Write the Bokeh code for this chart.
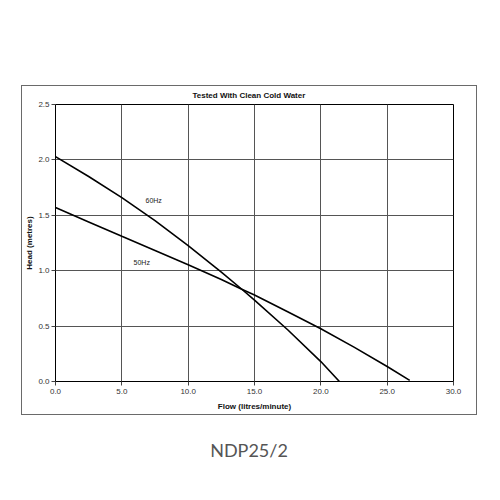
from bokeh.plotting import figure
from bokeh.models import FixedTicker, PrintfTickFormatter, Label, Range1d, Div, Spacer
from bokeh.layouts import column, row
from bokeh.embed import file_html
from bokeh.resources import INLINE

# data
flow_60 = [0, 2.5, 5, 7.5, 10, 12.5, 14, 15, 17.5, 20, 21.4]
head_60 = [2.03, 1.85, 1.66, 1.452, 1.227, 0.987, 0.837, 0.735, 0.467, 0.18, 0.0]
flow_50 = [0, 2.5, 5, 7.5, 10, 12.5, 14, 15, 17.5, 20, 22.5, 25, 26.7]
head_50 = [1.57, 1.44, 1.31, 1.182, 1.054, 0.92, 0.835, 0.78, 0.63, 0.476, 0.31, 0.135, 0.01]
x_ticks = [0, 5, 10, 15, 20, 25, 30]
y_ticks = [0, 0.5, 1.0, 1.5, 2.0, 2.5]
title_text = "Tested With Clean Cold Water"
x_label = "Flow (litres/minute)"
y_label = "Head (metres)"
model_text = "NDP25/2"

FONT = "Liberation Sans"
BOX = "#6a6a6a"

p = figure(width=454, height=328, output_backend="svg", toolbar_location=None,
           x_range=Range1d(0, 30), y_range=Range1d(0, 2.5),
           min_border_left=33, min_border_right=23, min_border_top=18, min_border_bottom=33)
p.background_fill_color = "white"
p.border_fill_color = "white"
p.outline_line_color = "black"
p.outline_line_width = 1

p.title.text = title_text
p.title.align = "left"
p.title.vertical_align = "top"
p.title.text_font = FONT
p.title.text_font_size = "8px"
p.title.text_font_style = "bold"
p.title.text_color = "#111111"
p.title.offset = 137
p.title.standoff = 5

for ax in (p.xaxis[0], p.yaxis[0]):
    ax.minor_tick_line_color = None
    ax.major_tick_in = 0
    ax.major_tick_out = 4
    ax.major_tick_line_color = "#444444"
    ax.axis_line_color = "black"
    ax.major_label_text_font = FONT
    ax.major_label_text_font_size = "8px"
    ax.major_label_text_color = "#333333"
    ax.formatter = PrintfTickFormatter(format="%.1f")
    ax.axis_label_text_font = FONT
    ax.axis_label_text_font_size = "8px"
    ax.axis_label_text_font_style = "bold"
    ax.axis_label_text_color = "#111111"
p.xaxis.axis_label = x_label
p.yaxis.axis_label = y_label
p.xaxis.major_label_standoff = 3
p.yaxis.major_label_standoff = 2
p.xaxis.axis_label_standoff = 5
p.yaxis.axis_label_standoff = 1
p.xaxis.ticker = FixedTicker(ticks=x_ticks)
p.yaxis.ticker = FixedTicker(ticks=y_ticks)

p.xgrid.ticker = FixedTicker(ticks=x_ticks)
p.ygrid.ticker = FixedTicker(ticks=y_ticks)
p.grid.grid_line_color = "#555555"
p.grid.grid_line_width = 1
p.grid.grid_line_alpha = 1

p.line(flow_60, head_60, line_color="black", line_width=1.6)
p.line(flow_50, head_50, line_color="black", line_width=1.6)

p.add_layout(Label(x=7.4, y=1.63, text="60Hz", text_font=FONT, text_font_size="7px",
                   text_color="#222222", text_align="center", text_baseline="middle"))
p.add_layout(Label(x=6.5, y=1.07, text="50Hz", text_font=FONT, text_font_size="7px",
                   text_color="#222222", text_align="center", text_baseline="middle"))

caption = Div(text=model_text, width=456, height=24,
              styles={"text-align": "center", "font-family": "Lato", "font-size": "18px",
                      "color": "#555555", "line-height": "20px"})


def hline():
    return Spacer(width=456, height=1, styles={"background-color": BOX})


def vline():
    return Spacer(width=1, height=328, styles={"background-color": BOX})


layout = column(
    Spacer(width=10, height=85),
    row(Spacer(width=21, height=1), hline()),
    row(Spacer(width=21, height=328), vline(), p, vline()),
    row(Spacer(width=21, height=1), hline()),
    Spacer(width=10, height=20),
    row(Spacer(width=16, height=24), caption),
)

open("out.html", "w").write(file_html(layout, INLINE))
